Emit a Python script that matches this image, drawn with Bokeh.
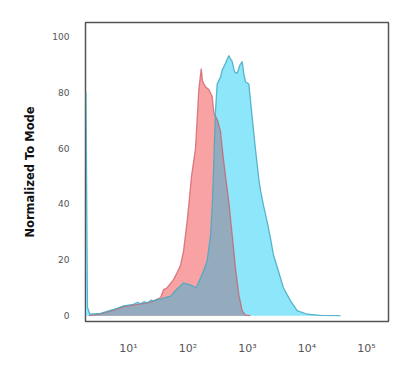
import numpy as np
from bokeh.plotting import figure
from bokeh.models import FixedTicker, Range1d
from bokeh.embed import file_html
from bokeh.resources import INLINE

# Log10 of fluorescence intensity and normalized counts
blue_log = [0.285, 0.31, 0.35, 0.53, 0.75, 0.92, 1.08, 1.15, 1.20, 1.26, 1.32, 1.38, 1.42, 1.48,
            1.54, 1.62, 1.71, 1.79, 1.87, 1.92, 1.99, 2.04, 2.09, 2.13, 2.17, 2.21, 2.26, 2.32,
            2.38, 2.41, 2.43, 2.46, 2.49, 2.55, 2.575, 2.63, 2.686, 2.714, 2.743, 2.782, 2.827,
            2.871, 2.911, 2.938, 2.966, 3.022, 3.079, 3.134, 3.19, 3.218, 3.269, 3.331, 3.387,
            3.437, 3.521, 3.605, 3.723, 3.835, 4.003, 4.227, 4.563]
blue_val = [80, 3, 0.5, 0.8, 2.2, 3.5, 4.0, 4.8, 4.2, 5.0, 4.6, 5.6, 5.2, 5.8,
            5.8, 6.5, 7.0, 9.0, 10.6, 11.7, 11.3, 11.0, 10.5, 9.9, 11.5, 13.5, 16, 19.5,
            28.8, 40.8, 52.5, 72.6, 83, 85.6, 88, 90.4, 93.2, 92, 91, 87.3, 86.8,
            89.7, 91, 86.7, 83.8, 83, 71, 59.6, 49, 45, 39.5, 33.6, 27.7,
            21.7, 15.9, 9.9, 5.3, 1.8, 0.5, 0.1, 0]

red_log = [0.33, 0.53, 0.75, 0.92, 1.08, 1.20, 1.32, 1.42, 1.54, 1.588, 1.65, 1.756, 1.807,
           1.874, 1.924, 1.992, 2.059, 2.126, 2.155, 2.182, 2.222, 2.244, 2.294, 2.35, 2.407,
           2.434, 2.496, 2.546, 2.575, 2.602, 2.63, 2.686, 2.743, 2.798, 2.854, 2.911, 2.966, 3.05]
red_val = [0, 0.6, 2.0, 3.2, 3.8, 4.2, 4.6, 5.2, 6.5, 9.3, 10, 12.9, 15,
           18, 23, 35, 50, 60, 71, 81, 88.5, 84, 82, 81, 78.5,
           72.6, 70, 66, 60, 55, 50, 40.8, 28.8, 17, 7.5, 1.7, 0.2, 0]

x_ticks = [10, 100, 1000, 10000, 100000]
x_tick_labels = ["10\u00b9", "10\u00b2", "10\u00b3", "10\u2074", "10\u2075"]
y_ticks = [0, 20, 40, 60, 80, 100]

bx = np.power(10.0, blue_log)
rx = np.power(10.0, red_log)

# overlap region = min of the two histograms on a common grid
grid_log = np.union1d(blue_log, red_log)
grid_log = grid_log[(grid_log >= min(red_log)) & (grid_log <= max(red_log))]
ov = np.minimum(np.interp(grid_log, blue_log, blue_val), np.interp(grid_log, red_log, red_val))
ox = np.power(10.0, grid_log)

p = figure(width=408, height=357, x_axis_type="log", output_backend="svg",
           toolbar_location=None,
           x_range=Range1d(10 ** 0.277, 10 ** 5.37), y_range=Range1d(-2.1, 105),
           min_border_left=85, min_border_right=20, min_border_top=22, min_border_bottom=33)

base = 0
p.patch(np.concatenate([[bx[0]], bx, [bx[-1]]]), np.concatenate([[base], blue_val, [base]]),
        fill_color="#8de6f9", line_color=None)
p.patch(np.concatenate([[rx[0]], rx, [rx[-1]]]), np.concatenate([[base], red_val, [base]]),
        fill_color="#f9a2a4", line_color=None)
p.patch(np.concatenate([[ox[0]], ox, [ox[-1]]]), np.concatenate([[base], ov, [base]]),
        fill_color="#94aabd", line_color=None)
p.line(rx, red_val, line_color="#cc5c66", line_width=1.3, line_alpha=0.75)
p.line(bx, blue_val, line_color="#45a9c2", line_width=1.3, line_alpha=0.85)

p.xgrid.visible = False
p.ygrid.visible = False
p.outline_line_color = "#555555"
p.outline_line_width = 1.5
p.background_fill_color = "white"
p.border_fill_color = "white"

p.xaxis.ticker = FixedTicker(ticks=x_ticks)
p.xaxis.major_label_overrides = {t: l for t, l in zip(x_ticks, x_tick_labels)}
p.yaxis.ticker = FixedTicker(ticks=y_ticks)

for ax in (p.xaxis[0], p.yaxis[0]):
    ax.axis_line_color = None
    ax.major_tick_line_color = None
    ax.minor_tick_line_color = None
    ax.major_label_text_font = "DejaVu Sans"
    ax.major_label_text_color = "#555555"

p.xaxis.major_label_text_font_size = "11px"
p.xaxis.major_label_standoff = 14
p.yaxis.major_label_text_font_size = "9px"
p.yaxis.major_label_standoff = 10
p.yaxis.axis_label = "Normalized To Mode"
p.yaxis.axis_label_text_font = "DejaVu Sans"
p.yaxis.axis_label_text_font_style = "bold"
p.yaxis.axis_label_text_font_size = "11.5px"
p.yaxis.axis_label_text_color = "#111111"
p.yaxis.axis_label_standoff = 12

open("out.html", "w").write(file_html(p, INLINE))
